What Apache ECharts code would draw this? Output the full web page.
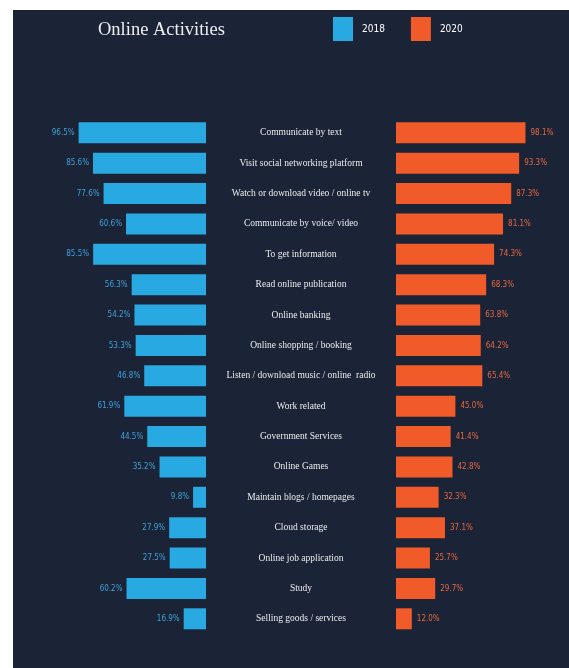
<!DOCTYPE html>
<html>
<head>
<meta charset="utf-8">
<script src="https://cdn.jsdelivr.net/npm/echarts@6/dist/echarts.min.js"></script>
<style>
html,body{margin:0;padding:0;background:#ffffff;}
#chart{width:569px;height:668px;}
</style>
</head>
<body>
<div id="chart"></div>
<script>
const categories = [
  'Communicate by text',
  'Visit social networking platform',
  'Watch or download video / online tv',
  'Communicate by voice/ video',
  'To get information',
  'Read online publication',
  'Online banking',
  'Online shopping / booking',
  'Listen / download music / online  radio',
  'Work related',
  'Government Services',
  'Online Games',
  'Maintain blogs / homepages',
  'Cloud storage',
  'Online job application',
  'Study',
  'Selling goods / services'
];
const values2018 = [96.5, 85.6, 77.6, 60.6, 85.5, 56.3, 54.2, 53.3, 46.8, 61.9, 44.5, 35.2, 9.8, 27.9, 27.5, 60.2, 16.9];
const values2020 = [98.1, 93.3, 87.3, 81.1, 74.3, 68.3, 63.8, 64.2, 65.4, 45.0, 41.4, 42.8, 32.3, 37.1, 25.7, 29.7, 12.0];
const seriesNames = ['2018', '2020'];

const BG = '#1b2337';
const BLUE = '#29a9e1';
const ORANGE = '#f15a29';
const numFont = "'Liberation Sans Narrow', 'DejaVu Sans Condensed', 'Roboto Condensed', sans-serif";
const serifFont = "'Liberation Serif', 'DejaVu Serif', serif";

const chart = echarts.init(document.getElementById('chart'), null, {renderer: 'canvas'});
const gridTop = 117.6, gridH = 516.4;
chart.setOption({
  backgroundColor: '#ffffff',
  animation: false,
  graphic: [{
    type: 'rect', z: -10, silent: true,
    shape: {x: 13, y: 10, width: 556, height: 658},
    style: {fill: BG}
  }],
  title: {
    text: 'Online Activities',
    left: 93, top: 16,
    textStyle: {color: '#eeeeee', fontFamily: serifFont, fontSize: 18.5, fontWeight: 'normal'}
  },
  legend: {
    data: seriesNames,
    left: 333, top: 17, padding: 0,
    itemWidth: 20, itemHeight: 24, itemGap: 26,
    icon: 'rect',
    textStyle: {color: '#ffffff', fontSize: 10, fontFamily: numFont, padding: [0, 0, 0, 4]}
  },
  grid: [
    {left: 74, top: gridTop, width: 132, height: gridH},
    {left: 396, top: gridTop, width: 132, height: gridH}
  ],
  xAxis: [
    {type: 'value', gridIndex: 0, min: 0, max: 100, inverse: true, show: false},
    {type: 'value', gridIndex: 1, min: 0, max: 100, show: false}
  ],
  yAxis: [
    {type: 'category', gridIndex: 0, data: categories, inverse: true, show: false},
    {type: 'category', gridIndex: 1, data: categories, inverse: true,
     axisLine: {show: false}, axisTick: {show: false}, splitLine: {show: false},
     axisLabel: {show: true, margin: 95, align: 'center', color: '#ececec',
                 fontFamily: serifFont, fontSize: 9.5, fontWeight: 'normal'}}
  ],
  series: [
    {
      name: seriesNames[0], type: 'bar', xAxisIndex: 0, yAxisIndex: 0,
      data: values2018, barWidth: 21,
      itemStyle: {color: BLUE},
      label: {show: true, position: 'left', distance: 4, color: '#3ea2d8',
              fontFamily: numFont, fontSize: 8,
              formatter: p => p.value.toFixed(1) + '%'}
    },
    {
      name: seriesNames[1], type: 'bar', xAxisIndex: 1, yAxisIndex: 1,
      data: values2020, barWidth: 21,
      itemStyle: {color: ORANGE},
      label: {show: true, position: 'right', distance: 5, color: '#e7683f',
              fontFamily: numFont, fontSize: 8,
              formatter: p => p.value.toFixed(1) + '%'}
    }
  ]
});
</script>
</body>
</html>
